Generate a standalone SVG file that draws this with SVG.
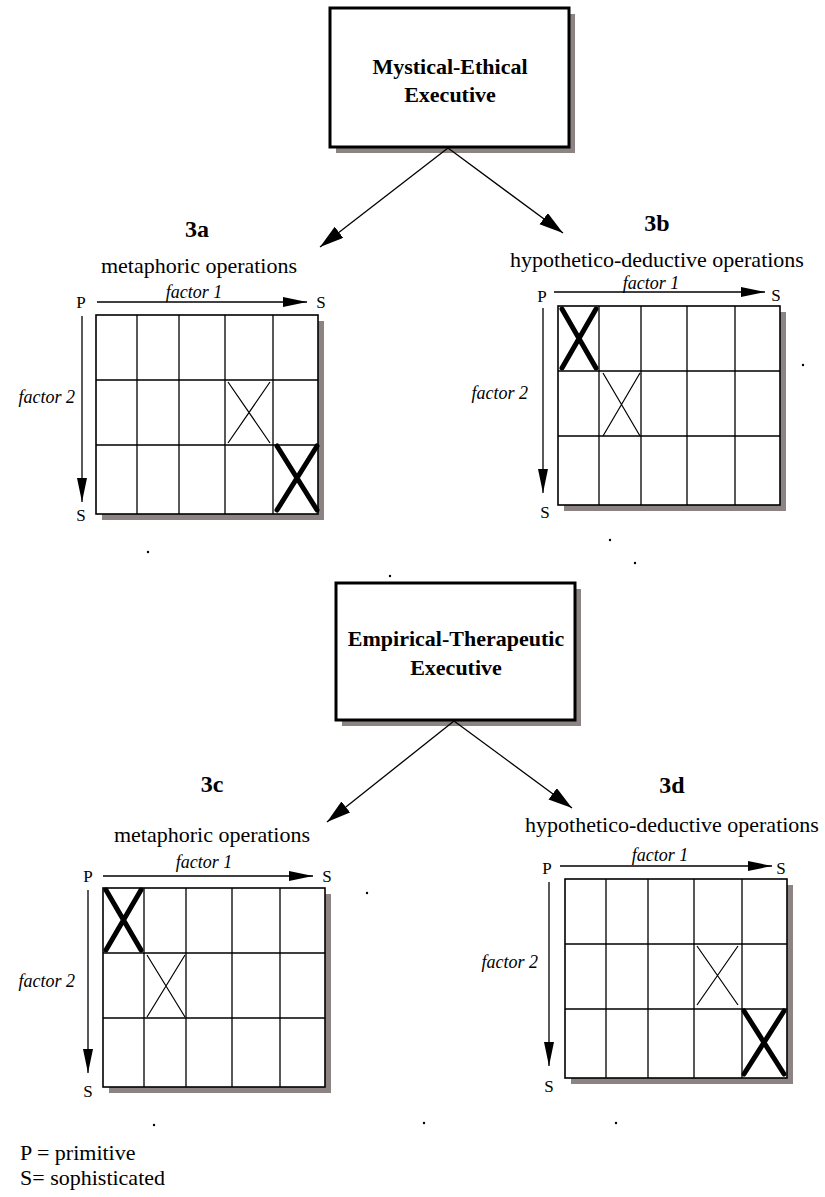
<svg xmlns="http://www.w3.org/2000/svg" width="825" height="1197" viewBox="0 0 825 1197">
<style>
  .bg{fill:#ffffff}
  .box{fill:#ffffff;stroke:#000;stroke-width:3}
  .shadow{fill:#8c8383}
  .title{font-family:"Liberation Serif","Times New Roman",serif;font-weight:bold;font-size:22px;text-anchor:middle;fill:#000}
  .lbl{font-family:"Liberation Serif","Times New Roman",serif;font-weight:bold;font-size:24px;text-anchor:middle;fill:#000}
  .txt{font-family:"Liberation Serif","Times New Roman",serif;font-size:22px;text-anchor:middle;fill:#000}
  .ps{font-family:"Liberation Serif","Times New Roman",serif;font-size:17px;text-anchor:middle;fill:#000}
  .fac{font-family:"Liberation Serif","Times New Roman",serif;font-style:italic;font-size:18px;fill:#000}
  .leg{font-family:"Liberation Serif","Times New Roman",serif;font-size:22px;fill:#000}
  .grid{fill:none;stroke:#000;stroke-width:1.3}
  .gfill{fill:#fff;stroke:#000;stroke-width:1.6}
  .ax{stroke:#000;stroke-width:1.3;fill:none;marker-end:url(#axh)}
  .con{stroke:#000;stroke-width:1.3;fill:none;marker-end:url(#bigh)}
  .lx{stroke:#000;stroke-width:1.2;fill:none}
  .bx{stroke:#000;stroke-width:5;stroke-linecap:round;fill:none}
</style>
<defs>
  <marker id="axh" markerUnits="userSpaceOnUse" markerWidth="26" markerHeight="12" refX="24" refY="5" orient="auto">
    <path d="M0,0 L24,5 L0,10 z" fill="#000"/>
  </marker>
  <marker id="bigh" markerUnits="userSpaceOnUse" markerWidth="26" markerHeight="16" refX="24" refY="7" orient="auto">
    <path d="M0,0 L24,7 L0,14 z" fill="#000"/>
  </marker>
  <g id="gridT">
    <rect x="6" y="6" width="222" height="199" class="shadow"/>
    <rect x="0" y="0" width="222" height="199" class="gfill"/>
    <path class="grid" d="M41,0V199 M83,0V199 M129,0V199 M177,0V199 M0,65H222 M0,130H222"/>
  </g>
</defs>
<rect class="bg" x="0" y="0" width="825" height="1197"/>

<g id="node-mystical">
  <rect class="shadow" x="336" y="14" width="239" height="139"/>
  <rect class="box" x="330" y="8" width="239" height="139"/>
  <text class="title" x="450" y="74">Mystical-Ethical</text>
  <text class="title" x="450" y="102">Executive</text>
</g>

<g id="node-empirical">
  <rect class="shadow" x="342" y="589" width="239" height="137"/>
  <rect class="box" x="336" y="583" width="239" height="137"/>
  <text class="title" x="456" y="646">Empirical-Therapeutic</text>
  <text class="title" x="456" y="675">Executive</text>
</g>

<g id="connectors">
  <line class="con" x1="448" y1="148" x2="320" y2="247"/>
  <line class="con" x1="448" y1="148" x2="563" y2="233"/>
  <line class="con" x1="454" y1="721" x2="327" y2="822"/>
  <line class="con" x1="454" y1="721" x2="572" y2="808"/>
</g>

<g id="node-3a">
  <text class="lbl" x="197" y="237">3a</text>
  <text class="txt" x="199" y="273">metaphoric operations</text>
  <use href="#gridT" x="96" y="315"/>
  <line class="ax" x1="97" y1="302" x2="307" y2="302"/>
  <line class="ax" x1="82" y1="316" x2="82" y2="502"/>
  <text class="ps" x="81" y="308">P</text>
  <text class="ps" x="321" y="308">S</text>
  <text class="ps" x="81" y="521">S</text>
  <text class="fac" x="194" y="298" text-anchor="middle">factor 1</text>
  <text class="fac" x="75" y="403" text-anchor="end">factor 2</text>
  <path class="lx" d="M228,382 L270,443 M270,382 L228,443"/>
  <path class="bx" d="M277,510 L317,446 M277,446 L317,510"/>
</g>

<g id="node-3b">
  <text class="lbl" x="657" y="231">3b</text>
  <text class="txt" x="657" y="267">hypothetico-deductive operations</text>
  <use href="#gridT" x="558" y="306"/>
  <line class="ax" x1="554" y1="292" x2="765" y2="292"/>
  <line class="ax" x1="543" y1="308" x2="543" y2="493"/>
  <text class="ps" x="542" y="302">P</text>
  <text class="ps" x="776" y="301">S</text>
  <text class="ps" x="545" y="518">S</text>
  <text class="fac" x="651" y="289" text-anchor="middle">factor 1</text>
  <text class="fac" x="528" y="399" text-anchor="end">factor 2</text>
  <path class="bx" d="M562,309 L596,368 M596,309 L562,368"/>
  <path class="lx" d="M603,373 L640,436 M640,373 L603,436"/>
</g>

<g id="node-3c">
  <text class="lbl" x="212" y="792">3c</text>
  <text class="txt" x="212" y="842">metaphoric operations</text>
  <use href="#gridT" x="103" y="888"/>
  <line class="ax" x1="103" y1="876" x2="313" y2="876"/>
  <line class="ax" x1="88" y1="890" x2="88" y2="1073"/>
  <text class="ps" x="88" y="882">P</text>
  <text class="ps" x="327" y="882">S</text>
  <text class="ps" x="88" y="1097">S</text>
  <text class="fac" x="204" y="868" text-anchor="middle">factor 1</text>
  <text class="fac" x="75" y="987" text-anchor="end">factor 2</text>
  <path class="bx" d="M106,890 L141,950 M141,890 L106,950"/>
  <path class="lx" d="M147,955 L185,1017 M185,955 L147,1017"/>
</g>

<g id="node-3d">
  <text class="lbl" x="672" y="793">3d</text>
  <text class="txt" x="672" y="832">hypothetico-deductive operations</text>
  <use href="#gridT" x="565" y="879"/>
  <line class="ax" x1="560" y1="866" x2="772" y2="866"/>
  <line class="ax" x1="549" y1="882" x2="549" y2="1066"/>
  <text class="ps" x="547" y="874">P</text>
  <text class="ps" x="781" y="874">S</text>
  <text class="ps" x="549" y="1092">S</text>
  <text class="fac" x="660" y="861" text-anchor="middle">factor 1</text>
  <text class="fac" x="538" y="968" text-anchor="end">factor 2</text>
  <path class="lx" d="M697,946 L738,1005 M738,946 L697,1005"/>
  <path class="bx" d="M744,1011 L784,1074 M784,1011 L744,1074"/>
</g>

<g id="legend">
  <text class="leg" x="20" y="1160">P = primitive</text>
  <text class="leg" x="20" y="1185">S= sophisticated</text>
</g>

<g id="dots" fill="#000">
  <circle cx="803" cy="365" r="1.2"/>
  <circle cx="390" cy="576" r="1.2"/>
  <circle cx="154" cy="1125" r="1.2"/>
  <circle cx="148" cy="552" r="1.2"/>
  <circle cx="610" cy="540" r="1.2"/>
  <circle cx="635" cy="563" r="1.2"/>
  <circle cx="367" cy="893" r="1.2"/>
  <circle cx="424" cy="1123" r="1.2"/>
  <circle cx="616" cy="1123" r="1.2"/>
</g>
</svg>
